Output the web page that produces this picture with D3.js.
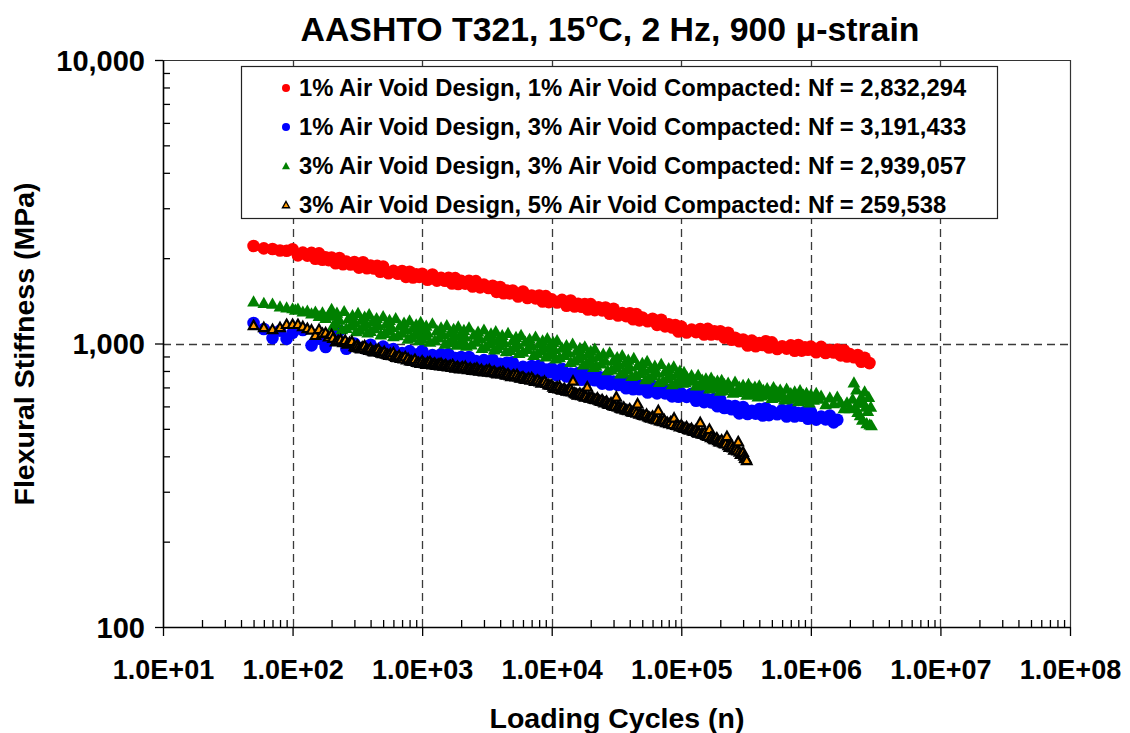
<!DOCTYPE html>
<html><head><meta charset="utf-8">
<script src="https://cdn.jsdelivr.net/npm/d3@7"></script>
<style>
body{margin:0;background:#fff;}
svg text{font-family:"Liberation Sans",Arial,Helvetica,sans-serif;font-weight:bold;fill:#000;}
.tick-lbl-x{font-size:27px;}
.tick-lbl-y{font-size:29px;}
.axis-title{font-size:28.5px;}
.legend-text{font-size:23.8px;}
.title{font-size:33.8px;}
</style></head><body>
<svg id="chart" width="1130" height="733"></svg>
<script>
// ---------- data ----------
const seriesNames = [
  "1% Air Void Design, 1% Air Void Compacted: Nf = 2,832,294",
  "1% Air Void Design, 3% Air Void Compacted: Nf = 3,191,433",
  "3% Air Void Design, 3% Air Void Compacted: Nf = 2,939,057",
  "3% Air Void Design, 5% Air Void Compacted: Nf = 259,538"
];

// [loading cycles, flexural stiffness MPa]
const redPoints = [[50,2208],[60,2165],[70,2155],[80,2128],[90,2125],
  [100,2150],[110,2046],[120,2092],[130,2041],[140,2087],[150,1991],[160,2079],[170,1975],[180,2016],[190,1968],[200,2011],[215,1918],[230,2002],[245,1903],[260,1945],[280,1899],[300,1939],[325,1852],[350,1935],[375,1842],[400,1885],[425,1839],[450,1878],[475,1791],[500,1869],[550,1769],[600,1804],[650,1762],[700,1802],[750,1718],[800,1792],[850,1710],[900,1754],[950,1718],
  [1000,1761],[1100,1679],[1200,1751],[1300,1666],[1400,1704],[1500,1665],[1600,1705],[1700,1628],[1800,1700],[1900,1622],[2000,1663],[2150,1626],[2300,1664],[2450,1589],[2600,1659],[2800,1578],[3000,1613],[3250,1569],[3500,1598],[3750,1521],[4000,1582],[4250,1504],[4500,1537],[4750,1503],[5000,1537],[5500,1464],[6000,1526],[6500,1448],[7000,1477],[7500,1443],[8000,1476],[8500,1407],[9000,1469],[9500,1399],
  [10000,1431],[11000,1396],[12000,1425],[13000,1359],[14000,1418],[15000,1350],[16000,1381],[17000,1348],[18000,1379],[19000,1318],[20000,1377],[21500,1311],[23000,1341],[24500,1309],[26000,1339],[28000,1274],[30000,1326],[32500,1256],[35000,1280],[37500,1249],[40000,1278],[42500,1218],[45000,1270],[47500,1207],[50000,1235],[55000,1198],[60000,1222],[65000,1163],[70000,1213],[75000,1149],[80000,1169],[85000,1139],[90000,1161],[95000,1103],
  [100000,1147],[110000,1093],[120000,1119],[130000,1097],[140000,1125],[150000,1076],[160000,1126],[170000,1076],[180000,1104],[190000,1079],[200000,1105],[215000,1049],[230000,1091],[245000,1031],[260000,1048],[280000,1018],[300000,1033],[325000,984],[350000,1024],[375000,978],[400000,1003],[425000,988],[450000,1018],[475000,968],[500000,1009],[550000,956],[600000,978],[650000,959],[700000,985],[750000,943],[800000,988],[850000,944],[900000,970],[950000,950],
  [1000000,975],[1100000,931],[1200000,973],[1300000,926],[1400000,948],[1500000,929],[1600000,952],[1700000,908],[1800000,947],[1900000,900],[2000000,917],[2150000,894],[2300000,911],[2450000,862],[2600000,891],[2832294,853]];

const blueCycles = [50,60,70,80,90,
  100,120,140,160,180,200,230,260,300,350,400,450,500,550,600,700,800,900,
  1000,1100,1200,1300,1400,1500,1600,1700,1800,1900,2000,2150,2300,2450,2600,2800,3000,3250,3500,3750,4000,4250,4500,4750,5000,5500,6000,6500,7000,7500,8000,8500,9000,9500,
  10000,11000,12000,13000,14000,15000,16000,17000,18000,19000,20000,21500,23000,24500,26000,28000,30000,32500,35000,37500,40000,42500,45000,47500,50000,55000,60000,65000,70000,75000,80000,85000,90000,95000,
  100000,110000,120000,130000,140000,150000,160000,170000,180000,190000,200000,215000,230000,245000,260000,280000,300000,325000,350000,375000,400000,425000,450000,475000,500000,550000,600000,650000,700000,750000,800000,850000,900000,950000,
  1000000,1100000,1200000,1300000,1400000,1500000,1600000];
const blueStiffness = [1181,1125,1045,1110,1038,
  1090,1116,985,1040,972,1050,1110,958,1000,965,990,950,975,940,955,925,940,915,
  942,887,910,887,916,867,917,865,888,868,896,848,896,845,868,848,874,827,876,826,848,828,855,810,858,807,828,808,833,790,835,788,810,792,
  818,772,814,765,784,764,787,745,788,742,762,742,763,722,762,717,734,714,734,695,733,690,709,690,712,672,709,667,683,667,687,651,689,649,
  667,648,665,628,661,621,636,620,638,601,633,592,603,586,602,567,597,564,579,566,587,557,591,559,576,563,582,553,586,553,569,556,573,543,
  573,539,553,540,557,527,538];

const greenCycles = [50,60,70,80,90,100,105,110,120,130,140,150,160,170,180,190,
  200,205,210,215,220,230,240,250,260,270,280,290,300,310,320,330,340,350,360,370,380,390,400,415,430,445,460,480,500,515,530,545,560,580,600,625,650,675,700,725,750,775,800,825,850,875,900,925,950,975,
  1000,1025,1050,1075,1100,1150,1200,1250,1300,1350,1400,1450,1500,1550,1600,1650,1700,1750,1800,1850,1900,1950,2000,2050,2100,2150,2200,2300,2400,2500,2600,2700,2800,2900,3000,3100,3200,3300,3400,3500,3600,3700,3800,3900,4000,4150,4300,4450,4600,4800,5000,5150,5300,5450,5600,5800,6000,6250,6500,6750,7000,7250,7500,7750,8000,8250,8500,8750,9000,9250,9500,9750,
  10000,10250,10500,10750,11000,11500,12000,12500,13000,13500,14000,14500,15000,15500,16000,16500,17000,17500,18000,18500,19000,19500,20000,20500,21000,21500,22000,23000,24000,25000,26000,27000,28000,29000,30000,31000,32000,33000,34000,35000,36000,37000,38000,39000,40000,41500,43000,44500,46000,48000,50000,51500,53000,54500,56000,58000,60000,62500,65000,67500,70000,72500,75000,77500,80000,82500,85000,87500,90000,92500,95000,97500,
  100000,102500,105000,107500,110000,115000,120000,125000,130000,135000,140000,145000,150000,155000,160000,165000,170000,175000,180000,185000,190000,195000,200000,205000,210000,215000,220000,230000,240000,250000,260000,270000,280000,290000,300000,310000,320000,330000,340000,350000,360000,370000,380000,390000,400000,415000,430000,445000,460000,480000,500000,515000,530000,545000,560000,580000,600000,625000,650000,675000,700000,725000,750000,775000,800000,825000,850000,875000,900000,925000,950000,975000,
  1000000,1050000,1100000,1150000,1200000,1300000,1400000,1500000,1600000,1700000,1800000,1900000,2000000,
  2100000,2150000,2200000,2250000,2300000,2350000,2400000,2450000,2500000,2550000,2600000,2650000,2700000,2750000,2800000,2850000,2900000,2939057];
const greenStiffness = [1412,1395,1385,1356,1345,1335,1320,1330,1300,1310,1280,1300,1255,1290,1235,1270,
  1328,1159,1256,1186,1288,1216,1127,1305,1137,1231,1162,1262,1194,1108,1286,1122,1216,1149,1248,1181,1096,1273,1111,1203,1136,1233,1166,1080,1252,1093,1184,1118,1214,1147,1064,1232,1073,1162,1095,1189,1124,1042,1209,1056,1142,1079,1172,1109,1030,1195,
  1043,1130,1068,1160,1098,1018,1180,1030,1115,1053,1142,1081,1002,1163,1015,1101,1040,1130,1070,993,1152,1007,1091,1032,1120,1061,985,1142,996,1078,1018,1105,1045,968,1123,980,1062,1003,1089,1030,956,1108,967,1048,989,1074,1016,942,1092,952,1030,973,1057,1000,928,1076,939,1017,960,1042,985,914,1061,926,1003,947,1028,973,903,1048,915,991,
  936,1015,959,889,1030,897,969,913,989,933,864,1002,874,946,892,967,913,846,980,854,924,871,945,894,829,961,838,906,853,924,872,807,933,812,877,828,898,849,786,912,794,860,812,880,832,771,892,777,840,790,856,809,750,870,759,820,773,838,791,734,849,741,802,757,821,776,720,833,727,786,742,805,
  763,729,796,733,768,741,776,748,713,777,715,747,720,755,729,696,760,700,732,707,741,715,683,746,688,721,697,730,705,673,735,676,707,683,716,692,661,722,666,696,673,707,682,652,713,657,688,665,698,674,645,704,649,680,658,690,666,637,695,641,670,648,680,656,627,686,632,662,640,672,649,621,
  663,635,671,641,656,613,647,617,651,621,593,622,593,
  640,731,600,690,575,620,560,650,540,620,680,600,525,580,650,520,600,516];

// [loading cycles, flexural stiffness MPa]
const orangePoints = [[50,1162],[60,1143],[70,1125],[80,1143],[90,1172],[100,1172],[110,1172],[120,1152],[130,1134],[140,1120],[150,1072],[160,1125],[170,1089],[180,1095],[190,1060],[200,1081],
  [205,1048],[215,1018],[225,1028],[235,1035],[245,1012],[255,1030],[265,1000],[275,1012],[287,1020],
  [300,980],[307,972],[315,990],[322,978],[330,968],[337,962],[345,975],[352,970],[360,985],[370,958],[380,955],[390,950],[400,965],[410,945],[420,940],[430,938],[440,952],[450,942],[460,958],[472,935],[485,928],[497,925],[510,940],[525,922],[540,918],[555,912],[570,925],[585,910],[600,932],[615,905],[630,898],[647,896],[665,910],[682,890],[700,893],[720,886],[740,902],[760,880],[780,888],[805,872],[830,870],[855,868],[880,882],[910,862],[940,860],[970,855],
  [1000,870],[1025,858],[1050,852],[1075,848],[1100,862],[1125,855],[1150,866],[1175,850],[1200,845],[1225,848],[1250,855],[1275,843],[1300,840],[1325,846],[1350,850],[1375,838],[1400,854],[1430,842],[1460,835],[1490,838],[1520,845],[1550,834],[1580,830],[1615,836],[1650,840],[1685,828],[1720,845],[1760,830],[1800,822],[1840,826],[1880,832],[1920,822],[1960,818],[2005,825],[2050,830],[2100,818],[2150,833],[2200,820],[2250,812],[2300,815],[2350,822],[2400,812],[2450,808],[2500,812],[2550,818],[2600,806],[2650,822],[2700,810],[2750,802],[2810,805],[2870,812],[2935,800],[3000,798],[3075,801],[3150,808],[3225,796],[3300,812],[3375,798],[3450,792],[3525,794],[3600,800],[3700,790],[3800,785],[3900,788],[4000,795],[4100,784],[4200,798],[4300,786],[4400,778],[4500,776],[4600,785],[4725,774],[4850,768],[4975,772],[5100,778],[5250,766],[5400,780],[5550,766],[5700,758],[5850,760],[6000,765],[6150,754],[6300,750],[6475,752],[6650,758],[6825,746],[7000,760],[7200,748],[7400,738],[7600,740],[7800,745],[8050,736],[8300,728],[8550,732],[8800,738],[9100,726],[9400,718],[9700,716],
  [10000,715],[10250,705],[10500,698],[10750,700],[11000,705],[11250,694],[11500,708],[11750,692],[12000,688],[12250,690],[12500,696],[12750,686],[13000,682],[13250,684],[13500,690],[13750,680],[14000,695],[14300,678],[14600,740],[14900,672],[15200,668],[15500,666],[15800,660],[16150,662],[16500,670],[16850,658],[17200,665],[17600,655],[18000,650],[18400,652],[18800,705],[19200,648],[19600,645],[20000,644],[20500,650],[21000,640],[21500,638],[22000,636],[22500,645],[23000,634],[23500,630],[24000,628],[24500,636],[25000,625],[25500,620],[26000,622],[26500,628],[27000,616],[27500,612],[28100,612],[28700,620],[29350,608],[30000,605],[30750,603],[31500,650],[32250,600],[33000,600],[33750,594],[34500,592],[35250,590],[36000,598],[37000,586],[38000,585],[39000,582],[40000,590],[41000,578],[42000,575],[43000,574],[44000,582],[45000,570],[46000,615],[47250,566],[48500,568],[49750,562],[51000,560],[52500,558],[54000,565],[55500,553],[57000,550],[58500,548],[60000,556],[61500,545],[63000,543],[64750,540],[66500,582],[68250,536],[70000,536],[72000,532],[74000,540],[76000,528],[78000,528],[80500,524],[83000,532],[85500,520],[88000,548],[91000,516],[94000,515],[97000,510],
  [100000,518],[102500,508],[105000,505],[107500,504],[110000,510],[112500,500],[115000,498],[117500,498],[120000,503],[122500,494],[125000,492],[127500,492],[130000,498],[132500,488],[135000,485],[137500,486],[140000,528],[143000,482],[146000,482],[149000,480],[152000,488],[155000,476],[158000,474],[161500,472],[165000,500],[168500,468],[172000,470],[176000,464],[180000,460],[184000,460],[188000,466],[192000,456],[196000,452],[200500,452],[205000,458],[210000,448],[215000,445],[220000,444],[225000,472],[230000,438],[235000,432],[240000,434],[245000,440],[250000,430],[255000,422],[260000,424],[265000,428],[270000,420],[275000,452],[281000,416],[287000,408],[293500,410],[300000,415],[305000,402],[310000,395],[315000,394],[320000,388]];

const xTicks = [1e1,1e2,1e3,1e4,1e5,1e6,1e7,1e8];
const xTickLabels = ["1.0E+01","1.0E+02","1.0E+03","1.0E+04","1.0E+05","1.0E+06","1.0E+07","1.0E+08"];
const yTicks = [100,1000,10000];
const yTickLabels = ["100","1,000","10,000"];

// ---------- chart ----------
const svg = d3.select("#chart");
const plot = {left:163, right:1070, top:60, bottom:627};
const x = d3.scaleLog().domain([10,1e8]).range([plot.left, plot.right]);
const y = d3.scaleLog().domain([100,10000]).range([plot.bottom, plot.top]);

svg.append("rect").attr("width",1130).attr("height",733).attr("fill","#fff");

// gridlines
const grid = svg.append("g").attr("stroke","#3a3a3a").attr("stroke-width",1.3).attr("stroke-dasharray","8,5");
grid.selectAll("line.v").data(xTicks.filter(d=>d>10 && d<1e8)).join("line")
  .attr("x1",d=>Math.round(x(d))+0.5).attr("x2",d=>Math.round(x(d))+0.5)
  .attr("y1",plot.top).attr("y2",plot.bottom);
grid.selectAll("line.h").data(yTicks.filter(d=>d>100 && d<10000)).join("line")
  .attr("y1",d=>Math.round(y(d))+0.5).attr("y2",d=>Math.round(y(d))+0.5)
  .attr("x1",plot.left).attr("x2",plot.right);

// top / right frame
svg.append("path")
  .attr("d",`M${plot.left},${plot.top+0.5}H${plot.right+0.5}V${plot.bottom}`)
  .attr("fill","none").attr("stroke","#333").attr("stroke-width",1.2);

// series
const triGreen = "M0,-5.8L6.4,5.4L-6.4,5.4Z";
const triOrange = "M0,-4.4L4.8,4.1L-4.8,4.1Z";
const series = [
  {name:seriesNames[0], points:redPoints, color:"#FF0000", shape:"circle"},
  {name:seriesNames[1], points:d3.zip(blueCycles, blueStiffness), color:"#0000FF", shape:"circle"},
  {name:seriesNames[2], points:d3.zip(greenCycles, greenStiffness), color:"#008000", shape:"triangle"},
  {name:seriesNames[3], points:orangePoints, color:"#FF9900", shape:"triangleOutlined"}
];

series.forEach(s=>{
  const pts = s.points;
  const g = svg.append("g");
  if(s.shape==="circle"){
    g.selectAll("circle").data(pts).join("circle")
      .attr("cx",d=>x(d[0])).attr("cy",d=>y(d[1])).attr("r",6.3).attr("fill",s.color);
  } else if(s.shape==="triangle"){
    g.selectAll("path").data(pts).join("path")
      .attr("d",triGreen).attr("transform",d=>`translate(${x(d[0])},${y(d[1])})`).attr("fill",s.color);
  } else {
    g.selectAll("path").data(pts).join("path")
      .attr("d",triOrange).attr("transform",d=>`translate(${x(d[0])},${y(d[1])})`)
      .attr("fill",s.color).attr("stroke","#000").attr("stroke-width",2.1).attr("stroke-linejoin","miter");
  }
});

// axes
const minorX = x.ticks().filter(d=>!xTicks.includes(d));
const minorY = y.ticks().filter(d=>!yTicks.includes(d));

const xMinor = svg.append("g").attr("transform",`translate(0,${plot.bottom})`)
  .call(d3.axisBottom(x).tickValues(minorX).tickSize(-7).tickSizeOuter(0).tickFormat(""));
xMinor.select(".domain").remove();
const yMinor = svg.append("g").attr("transform",`translate(${plot.left},0)`)
  .call(d3.axisLeft(y).tickValues(minorY).tickSize(-7).tickSizeOuter(0).tickFormat(""));
yMinor.select(".domain").remove();

const xAxis = svg.append("g").attr("transform",`translate(0,${plot.bottom})`)
  .call(d3.axisBottom(x).tickValues(xTicks).tickSize(9).tickSizeOuter(0).tickFormat((d,i)=>xTickLabels[i]));
xAxis.selectAll(".tick text").attr("class","tick-lbl-x").attr("y",52).attr("dy",null);
const yAxis = svg.append("g").attr("transform",`translate(${plot.left},0)`)
  .call(d3.axisLeft(y).tickValues(yTicks).tickSize(8).tickSizeOuter(0).tickFormat((d,i)=>yTickLabels[i]));
yAxis.selectAll(".tick text").attr("class","tick-lbl-y").attr("x",-18).attr("dy","0.36em");

[xMinor,yMinor,xAxis,yAxis].forEach(g=>{
  g.attr("font-size",null).attr("font-family",null);
  g.selectAll(".tick line").attr("stroke","#000").attr("stroke-width",1.3);
  g.select(".domain").attr("stroke","#000").attr("stroke-width",1.6);
});

// titles
const title = svg.append("text").attr("class","title").attr("x",610).attr("y",41).attr("text-anchor","middle");
title.append("tspan").text("AASHTO T321, 15");
title.append("tspan").attr("dy",-14).attr("font-size","21px").text("o");
title.append("tspan").attr("dy",14).text("C, 2 Hz, 900 μ-strain");

svg.append("text").attr("class","axis-title").attr("x",617).attr("y",728).attr("text-anchor","middle")
  .text("Loading Cycles (n)");
svg.append("text").attr("class","axis-title").attr("text-anchor","middle")
  .attr("transform","translate(34,344) rotate(-90)").text("Flexural Stiffness (MPa)");

// legend
const lg = svg.append("g");
lg.append("rect").attr("x",241.5).attr("y",66.5).attr("width",756).attr("height",152)
  .attr("fill","#fff").attr("stroke","#222").attr("stroke-width",1.2);
const rowY = i => 88 + i*38.9;
series.forEach((s,i)=>{
  const cy = rowY(i);
  if(s.shape==="circle"){
    lg.append("circle").attr("cx",286).attr("cy",cy).attr("r",4).attr("fill",s.color);
  } else if(s.shape==="triangle"){
    lg.append("path").attr("d","M0,-3.8L4,3.5L-4,3.5Z").attr("transform",`translate(286,${cy})`).attr("fill",s.color);
  } else {
    lg.append("path").attr("d","M0,-3.2L3.5,3L-3.5,3Z").attr("transform",`translate(286,${cy})`)
      .attr("fill",s.color).attr("stroke","#000").attr("stroke-width",1.4);
  }
  lg.append("text").attr("class","legend-text").attr("x",299).attr("y",cy+8.4).text(s.name);
});
</script>
</body></html>
